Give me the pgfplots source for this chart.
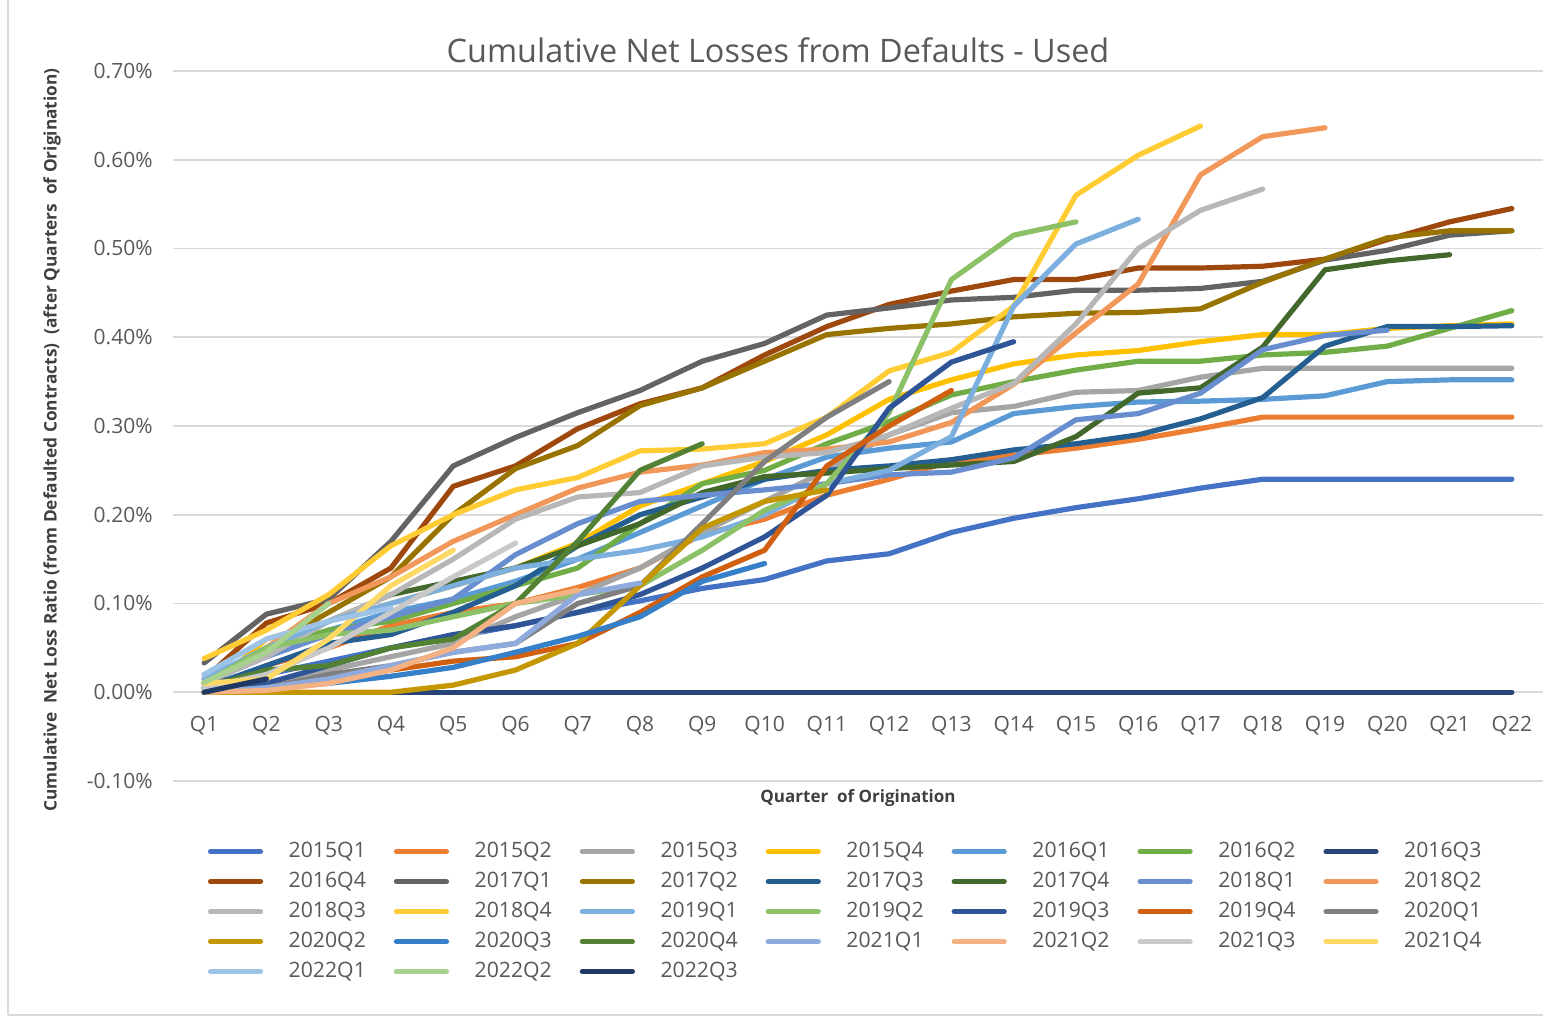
\documentclass[border=0pt]{standalone}
\usepackage{fontspec}
\setmainfont{Open Sans}
\usepackage{pgfplots}
\pgfplotsset{compat=1.18}

\definecolor{labelgray}{HTML}{595959}
\definecolor{titlegray}{HTML}{404040}
\definecolor{gridgray}{HTML}{D9D9D9}
\definecolor{c1}{HTML}{4472C4}
\definecolor{c2}{HTML}{ED7D31}
\definecolor{c3}{HTML}{A5A5A5}
\definecolor{c4}{HTML}{FFC000}
\definecolor{c5}{HTML}{5B9BD5}
\definecolor{c6}{HTML}{70AD47}
\definecolor{c7}{HTML}{264478}
\definecolor{c8}{HTML}{9E480E}
\definecolor{c9}{HTML}{636363}
\definecolor{c10}{HTML}{997300}
\definecolor{c11}{HTML}{255E91}
\definecolor{c12}{HTML}{43682B}
\definecolor{c13}{HTML}{698ED0}
\definecolor{c14}{HTML}{F1975A}
\definecolor{c15}{HTML}{B7B7B7}
\definecolor{c16}{HTML}{FFCD33}
\definecolor{c17}{HTML}{7CAFDD}
\definecolor{c18}{HTML}{8CC168}
\definecolor{c19}{HTML}{2F5597}
\definecolor{c20}{HTML}{D0600F}
\definecolor{c21}{HTML}{7F7F7F}
\definecolor{c22}{HTML}{C49600}
\definecolor{c23}{HTML}{3580C8}
\definecolor{c24}{HTML}{548235}
\definecolor{c25}{HTML}{8FAADC}
\definecolor{c26}{HTML}{F4B183}
\definecolor{c27}{HTML}{C9C9C9}
\definecolor{c28}{HTML}{FFD966}
\definecolor{c29}{HTML}{9DC3E6}
\definecolor{c30}{HTML}{A9D18E}
\definecolor{c31}{HTML}{1F3864}

\begin{document}
\begin{tikzpicture}[x=1pt,y=1pt]
\path[use as bounding box] (0,0) rectangle (771.5,510);
\draw[gridgray, line width=0.6pt] (4,2.5) -- (4,510);
\draw[gridgray, line width=0.6pt] (4,2.5) -- (771.5,2.5);

\begin{axis}[
    at={(86.5pt,119.5pt)}, anchor=south west,
    scale only axis, width=685pt, height=355pt,
    xmin=0.5, xmax=22.5, ymin=-0.1, ymax=0.7,
    axis line style={draw=none},
    tick style={draw=none},
    ymajorgrids,
    major grid style={color=gridgray, line width=0.9pt},
    ytick={-0.1,0,0.1,0.2,0.3,0.4,0.5,0.6,0.7},
    yticklabels={-0.10\%,0.00\%,0.10\%,0.20\%,0.30\%,0.40\%,0.50\%,0.60\%,0.70\%},
    xtick={1,...,22},
    xticklabels={Q1,Q2,Q3,Q4,Q5,Q6,Q7,Q8,Q9,Q10,Q11,Q12,Q13,Q14,Q15,Q16,Q17,Q18,Q19,Q20,Q21,Q22},
    ticklabel style={font=\fontsize{10.5}{12}\selectfont, text=labelgray},
    x tick label style={anchor=center, yshift=27.5pt},
    y tick label style={anchor=east, inner sep=0pt, xshift=-10pt},
    every axis plot/.append style={line width=2.6pt, line join=round, line cap=round},
    legend columns=7,
    legend cell align=left,
    legend image code/.code={\draw[#1] (0pt,0pt) -- (25pt,0pt);},
    legend style={at={(axis description cs:0.0255,-0.086)}, anchor=north west,
        draw=none, inner sep=0pt, outer sep=0pt,
        font=\fontsize{10.6}{12}\selectfont, text=labelgray,
        nodes={inner sep=0pt, text height=7.5pt, text depth=2pt},
        row sep=5.5pt,
        /tikz/every odd column/.append style={column sep=12.8pt},
        /tikz/every even column/.append style={column sep=14pt}},
]
\addplot[c1] coordinates {(1,0.00)(2,0.02)(3,0.035)(4,0.05)(5,0.062)(6,0.075)(7,0.09)(8,0.103)(9,0.117)(10,0.127)(11,0.148)(12,0.156)(13,0.18)(14,0.196)(15,0.208)(16,0.218)(17,0.23)(18,0.24)(19,0.24)(20,0.24)(21,0.24)(22,0.24)};
\addlegendentry{2015Q1}
\addplot[c2] coordinates {(1,0.0)(2,0.03)(3,0.05)(4,0.075)(5,0.09)(6,0.1)(7,0.118)(8,0.14)(9,0.178)(10,0.195)(11,0.222)(12,0.24)(13,0.26)(14,0.267)(15,0.275)(16,0.285)(17,0.297)(18,0.31)(19,0.31)(20,0.31)(21,0.31)(22,0.31)};
\addlegendentry{2015Q2}
\addplot[c3] coordinates {(1,0.005)(2,0.01)(3,0.025)(4,0.04)(5,0.055)(6,0.085)(7,0.11)(8,0.14)(9,0.18)(10,0.215)(11,0.25)(12,0.29)(13,0.315)(14,0.322)(15,0.338)(16,0.34)(17,0.355)(18,0.365)(19,0.365)(20,0.365)(21,0.365)(22,0.365)};
\addlegendentry{2015Q3}
\addplot[c4] coordinates {(1,0.0)(2,0.06)(3,0.08)(4,0.1)(5,0.12)(6,0.14)(7,0.168)(8,0.21)(9,0.235)(10,0.26)(11,0.29)(12,0.33)(13,0.352)(14,0.37)(15,0.38)(16,0.385)(17,0.395)(18,0.403)(19,0.403)(20,0.41)(21,0.413)(22,0.415)};
\addlegendentry{2015Q4}
\addplot[c5] coordinates {(1,0.01)(2,0.04)(3,0.07)(4,0.09)(5,0.105)(6,0.125)(7,0.15)(8,0.18)(9,0.21)(10,0.24)(11,0.265)(12,0.275)(13,0.282)(14,0.314)(15,0.322)(16,0.327)(17,0.328)(18,0.33)(19,0.334)(20,0.35)(21,0.352)(22,0.352)};
\addlegendentry{2016Q1}
\addplot[c6] coordinates {(1,0.005)(2,0.05)(3,0.07)(4,0.08)(5,0.1)(6,0.12)(7,0.14)(8,0.19)(9,0.235)(10,0.25)(11,0.28)(12,0.305)(13,0.335)(14,0.35)(15,0.363)(16,0.373)(17,0.373)(18,0.38)(19,0.383)(20,0.39)(21,0.41)(22,0.43)};
\addlegendentry{2016Q2}
\addplot[c7] coordinates {(1,0)(2,0)(3,0)(4,0)(5,0)(6,0)(7,0)(8,0)(9,0)(10,0)(11,0)(12,0)(13,0)(14,0)(15,0)(16,0)(17,0)(18,0)(19,0)(20,0)(21,0)(22,0)};
\addlegendentry{2016Q3}
\addplot[c8] coordinates {(1,0.015)(2,0.078)(3,0.1)(4,0.14)(5,0.232)(6,0.255)(7,0.297)(8,0.325)(9,0.343)(10,0.38)(11,0.412)(12,0.437)(13,0.452)(14,0.465)(15,0.465)(16,0.478)(17,0.478)(18,0.48)(19,0.488)(20,0.51)(21,0.53)(22,0.545)};
\addlegendentry{2016Q4}
\addplot[c9] coordinates {(1,0.033)(2,0.088)(3,0.105)(4,0.17)(5,0.255)(6,0.287)(7,0.315)(8,0.34)(9,0.373)(10,0.393)(11,0.425)(12,0.433)(13,0.442)(14,0.445)(15,0.453)(16,0.453)(17,0.455)(18,0.463)(19,0.487)(20,0.498)(21,0.515)(22,0.52)};
\addlegendentry{2017Q1}
\addplot[c10] coordinates {(1,0.005)(2,0.05)(3,0.09)(4,0.13)(5,0.2)(6,0.252)(7,0.278)(8,0.323)(9,0.343)(10,0.373)(11,0.403)(12,0.41)(13,0.415)(14,0.423)(15,0.427)(16,0.428)(17,0.432)(18,0.462)(19,0.488)(20,0.512)(21,0.52)(22,0.52)};
\addlegendentry{2017Q2}
\addplot[c11] coordinates {(1,0.005)(2,0.03)(3,0.055)(4,0.065)(5,0.09)(6,0.12)(7,0.165)(8,0.2)(9,0.22)(10,0.24)(11,0.25)(12,0.255)(13,0.262)(14,0.273)(15,0.28)(16,0.29)(17,0.308)(18,0.332)(19,0.39)(20,0.412)(21,0.412)(22,0.413)};
\addlegendentry{2017Q3}
\addplot[c12] coordinates {(1,0.01)(2,0.05)(3,0.08)(4,0.11)(5,0.125)(6,0.14)(7,0.165)(8,0.19)(9,0.225)(10,0.243)(11,0.247)(12,0.252)(13,0.256)(14,0.26)(15,0.288)(16,0.337)(17,0.343)(18,0.389)(19,0.476)(20,0.486)(21,0.493)};
\addlegendentry{2017Q4}
\addplot[c13] coordinates {(1,0.02)(2,0.04)(3,0.065)(4,0.085)(5,0.105)(6,0.155)(7,0.19)(8,0.215)(9,0.222)(10,0.228)(11,0.235)(12,0.245)(13,0.248)(14,0.264)(15,0.307)(16,0.314)(17,0.337)(18,0.386)(19,0.402)(20,0.408)};
\addlegendentry{2018Q1}
\addplot[c14] coordinates {(1,0.01)(2,0.05)(3,0.1)(4,0.13)(5,0.17)(6,0.2)(7,0.23)(8,0.248)(9,0.256)(10,0.27)(11,0.274)(12,0.282)(13,0.304)(14,0.347)(15,0.405)(16,0.46)(17,0.583)(18,0.626)(19,0.636)};
\addlegendentry{2018Q2}
\addplot[c15] coordinates {(1,0.01)(2,0.04)(3,0.08)(4,0.11)(5,0.15)(6,0.195)(7,0.22)(8,0.225)(9,0.255)(10,0.265)(11,0.27)(12,0.29)(13,0.32)(14,0.348)(15,0.415)(16,0.5)(17,0.543)(18,0.567)};
\addlegendentry{2018Q3}
\addplot[c16] coordinates {(1,0.038)(2,0.07)(3,0.11)(4,0.165)(5,0.2)(6,0.228)(7,0.242)(8,0.272)(9,0.274)(10,0.28)(11,0.31)(12,0.362)(13,0.383)(14,0.435)(15,0.56)(16,0.605)(17,0.638)};
\addlegendentry{2018Q4}
\addplot[c17] coordinates {(1,0.015)(2,0.05)(3,0.08)(4,0.1)(5,0.12)(6,0.14)(7,0.15)(8,0.16)(9,0.175)(10,0.2)(11,0.235)(12,0.25)(13,0.288)(14,0.435)(15,0.505)(16,0.533)};
\addlegendentry{2019Q1}
\addplot[c18] coordinates {(1,0.01)(2,0.05)(3,0.065)(4,0.07)(5,0.085)(6,0.1)(7,0.11)(8,0.12)(9,0.16)(10,0.205)(11,0.235)(12,0.315)(13,0.465)(14,0.515)(15,0.53)};
\addlegendentry{2019Q2}
\addplot[c19] coordinates {(1,0.0)(2,0.01)(3,0.03)(4,0.05)(5,0.065)(6,0.075)(7,0.09)(8,0.11)(9,0.14)(10,0.175)(11,0.222)(12,0.32)(13,0.372)(14,0.395)};
\addlegendentry{2019Q3}
\addplot[c20] coordinates {(1,0.0)(2,0.005)(3,0.015)(4,0.025)(5,0.035)(6,0.04)(7,0.055)(8,0.09)(9,0.13)(10,0.16)(11,0.255)(12,0.3)(13,0.34)};
\addlegendentry{2019Q4}
\addplot[c21] coordinates {(1,0.0)(2,0.005)(3,0.02)(4,0.03)(5,0.045)(6,0.055)(7,0.1)(8,0.12)(9,0.19)(10,0.26)(11,0.31)(12,0.35)};
\addlegendentry{2020Q1}
\addplot[c22] coordinates {(1,0)(2,0)(3,0)(4,0)(5,0.008)(6,0.025)(7,0.055)(8,0.12)(9,0.185)(10,0.215)(11,0.228)};
\addlegendentry{2020Q2}
\addplot[c23] coordinates {(1,0)(2,0.005)(3,0.01)(4,0.018)(5,0.028)(6,0.045)(7,0.063)(8,0.085)(9,0.125)(10,0.145)};
\addlegendentry{2020Q3}
\addplot[c24] coordinates {(1,0.005)(2,0.025)(3,0.03)(4,0.05)(5,0.06)(6,0.1)(7,0.17)(8,0.25)(9,0.28)};
\addlegendentry{2020Q4}
\addplot[c25] coordinates {(1,0)(2,0.005)(3,0.015)(4,0.03)(5,0.045)(6,0.055)(7,0.11)(8,0.123)};
\addlegendentry{2021Q1}
\addplot[c26] coordinates {(1,0)(2,0.002)(3,0.01)(4,0.025)(5,0.05)(6,0.1)(7,0.115)};
\addlegendentry{2021Q2}
\addplot[c27] coordinates {(1,0.005)(2,0.02)(3,0.05)(4,0.09)(5,0.13)(6,0.168)};
\addlegendentry{2021Q3}
\addplot[c28] coordinates {(1,0.01)(2,0.015)(3,0.06)(4,0.12)(5,0.16)};
\addlegendentry{2021Q4}
\addplot[c29] coordinates {(1,0.02)(2,0.06)(3,0.08)(4,0.095)};
\addlegendentry{2022Q1}
\addplot[c30] coordinates {(1,0.011)(2,0.045)(3,0.1)};
\addlegendentry{2022Q2}
\addplot[c31] coordinates {(1,0)(2,0.015)};
\addlegendentry{2022Q3}
\end{axis}

\node[font=\fontsize{16.2}{19}\selectfont, text=labelgray] at (389,485) {Cumulative Net Losses from Defaults - Used};
\node[rotate=90, font=\bfseries\fontsize{8.65}{10}\selectfont, text=titlegray] at (26,290) {Cumulative\ \ Net Loss Ratio (from Defaulted Contracts) \ (after Quarters \ of Origination)};
\node[font=\bfseries\fontsize{8.5}{10}\selectfont, text=titlegray] at (429,111) {Quarter\ \ of Origination};
\end{tikzpicture}
\end{document}
